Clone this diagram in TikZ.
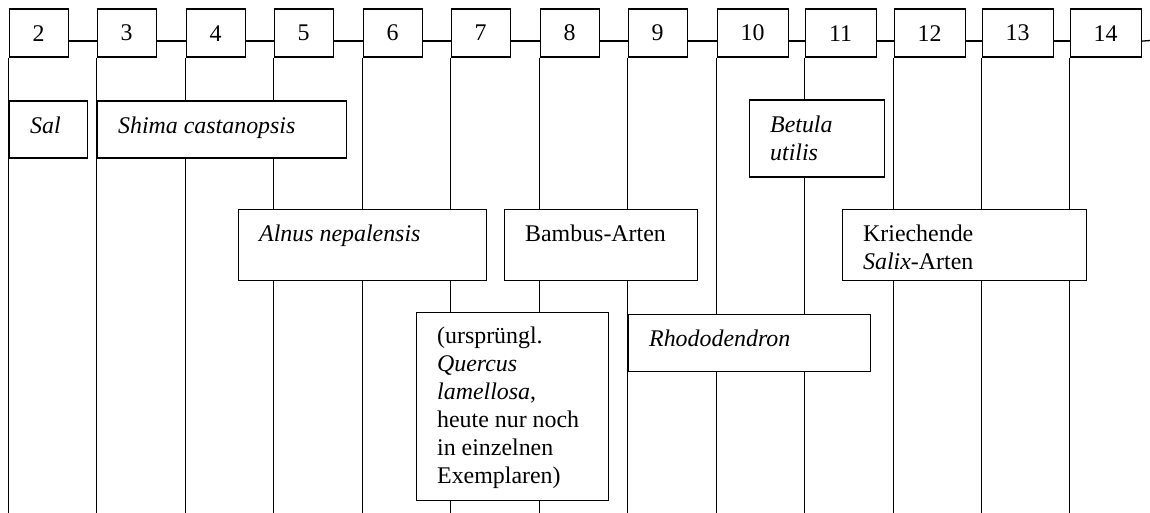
\documentclass[tikz,border=0pt]{standalone}
\usepackage{fontspec}
\setmainfont{Liberation Serif}
\usetikzlibrary{positioning}

\begin{document}
\begin{tikzpicture}[
    x=1pt, y=-1pt,
    line width=1.3pt,
    every node/.style={font=\fontsize{23.9}{28}\selectfont},
    stage/.style={draw, rectangle, anchor=north west, inner sep=0pt,
                  minimum height=48pt},
    belt/.style={draw, rectangle, fill=white, anchor=north west, inner sep=0pt},
    belttext/.style={anchor=north west, align=left, inner sep=0pt},
]
    \useasboundingbox (0,0) rectangle (1150,513);

    % Altitude steps (top row)
    \node[stage, minimum width=59pt] (A2)  at (8.5,    8.5) {2};
    \node[stage, minimum width=59pt] (A3)  at (96.5,   8.5) {3};
    \node[stage, minimum width=59pt] (A4)  at (185.5,  8.5) {4};
    \node[stage, minimum width=59pt] (A5)  at (273.5,  8.5) {5};
    \node[stage, minimum width=59pt] (A6)  at (362.5,  8.5) {6};
    \node[stage, minimum width=59pt] (A7)  at (450.5,  8.5) {7};
    \node[stage, minimum width=59pt] (A8)  at (539.5,  8.5) {8};
    \node[stage, minimum width=59pt] (A9)  at (627.5,  8.5) {9};
    \node[stage, minimum width=71pt] (A10) at (716.5,  8.5) {10};
    \node[stage, minimum width=71pt] (A11) at (804.5,  8.5) {11};
    \node[stage, minimum width=71pt] (A12) at (893.5,  8.5) {12};
    \node[stage, minimum width=71pt] (A13) at (981.5,  8.5) {13};
    \node[stage, minimum width=71pt] (A14) at (1069.5, 8.5) {14};

    \coordinate (bottom) at (0, 513);
    \coordinate (rim)    at (1150, 40.5);

    % Chain between the steps
    \draw ([yshift=-8pt]A2.east)  -- ([yshift=-8pt]A3.west);
    \draw ([yshift=-8pt]A3.east)  -- ([yshift=-8pt]A4.west);
    \draw ([yshift=-8pt]A4.east)  -- ([yshift=-8pt]A5.west);
    \draw ([yshift=-8pt]A5.east)  -- ([yshift=-8pt]A6.west);
    \draw ([yshift=-8pt]A6.east)  -- ([yshift=-8pt]A7.west);
    \draw ([yshift=-8pt]A7.east)  -- ([yshift=-8pt]A8.west);
    \draw ([yshift=-8pt]A8.east)  -- ([yshift=-8pt]A9.west);
    \draw ([yshift=-8pt]A9.east)  -- ([yshift=-8pt]A10.west);
    \draw ([yshift=-8pt]A10.east) -- ([yshift=-8pt]A11.west);
    \draw ([yshift=-8pt]A11.east) -- ([yshift=-8pt]A12.west);
    \draw ([yshift=-8pt]A12.east) -- ([yshift=-8pt]A13.west);
    \draw ([yshift=-8pt]A13.east) -- ([yshift=-8pt]A14.west);
    \draw ([yshift=-8pt]A14.east) -- (rim);

    % Drop lines below each step
    \draw (A2.south west)  -- (A2.south west |- bottom);
    \draw (A3.south west)  -- (A3.south west |- bottom);
    \draw (A4.south west)  -- (A4.south west |- bottom);
    \draw (A5.south west)  -- (A5.south west |- bottom);
    \draw (A6.south west)  -- (A6.south west |- bottom);
    \draw (A7.south west)  -- (A7.south west |- bottom);
    \draw (A8.south west)  -- (A8.south west |- bottom);
    \draw (A9.south west)  -- (A9.south west |- bottom);
    \draw (A10.south west) -- (A10.south west |- bottom);
    \draw (A11.south west) -- (A11.south west |- bottom);
    \draw (A12.south west) -- (A12.south west |- bottom);
    \draw (A13.south west) -- (A13.south west |- bottom);
    \draw (A14.south west) -- (A14.south west |- bottom);

    % Vegetation belts
    \node[belt, minimum width=78pt,  minimum height=57pt]  (Sal)     at (8.5, 100.5)   {};
    \node[belt, minimum width=249pt, minimum height=57pt]  (Shima)   at (96.5, 100.5)  {};
    \node[belt, minimum width=135pt, minimum height=77pt]  (Betula)  at (748.5, 99.5)  {};
    \node[belt, minimum width=248pt, minimum height=71pt]  (Alnus)   at (237.5, 208.5) {};
    \node[belt, minimum width=193pt, minimum height=71pt]  (Bambus)  at (503.5, 208.5) {};
    \node[belt, minimum width=244pt, minimum height=71pt]  (Salix)   at (841.5, 208.5) {};
    \node[belt, minimum width=192pt, minimum height=188pt] (Quercus) at (415.5, 311.5) {};
    \node[belt, minimum width=242pt, minimum height=57pt]  (Rhodo)   at (627.5, 313.5) {};

    % Belt names
    \node[belttext] (Sal-t)     at ([shift={(21,16)}]Sal.north west)     {\textit{Sal}};
    \node[belttext] (Shima-t)   at ([shift={(21,16)}]Shima.north west)   {\textit{Shima castanopsis}};
    \node[belttext] (Betula-t)  at ([shift={(21,16)}]Betula.north west)  {\textit{Betula}\\\textit{utilis}};
    \node[belttext] (Alnus-t)   at ([shift={(21,16)}]Alnus.north west)   {\textit{Alnus nepalensis}};
    \node[belttext] (Bambus-t)  at ([shift={(21,16)}]Bambus.north west)  {Bambus-Arten};
    \node[belttext] (Salix-t)   at ([shift={(21,16)}]Salix.north west)   {Kriechende\\\textit{Salix}-Arten};
    \node[belttext] (Quercus-t) at ([shift={(21,15)}]Quercus.north west) {(ursprüngl.\\\textit{Quercus}\\\textit{lamellosa},\\heute nur noch\\in einzelnen\\Exemplaren)};
    \node[belttext] (Rhodo-t)   at ([shift={(21,16)}]Rhodo.north west)   {\textit{Rhododendron}};
\end{tikzpicture}
\end{document}
